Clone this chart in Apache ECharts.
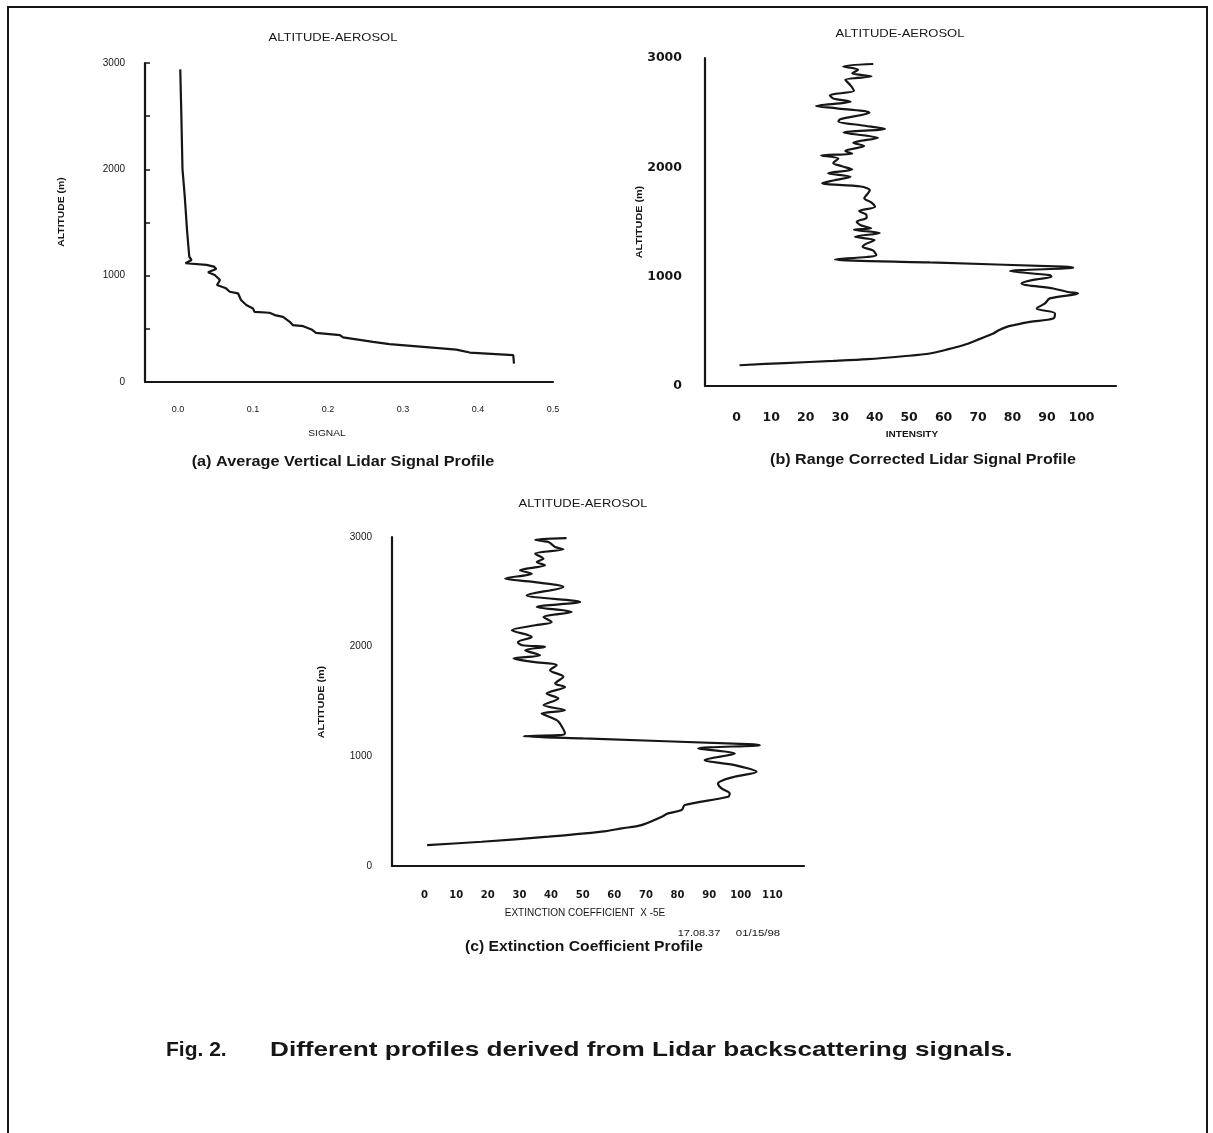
<!DOCTYPE html>
<html>
<head>
<meta charset="utf-8">
<title>Lidar profiles</title>
<script src="https://cdn.jsdelivr.net/npm/echarts@6/dist/echarts.min.js"></script>
<style>
html, body { margin: 0; padding: 0; background: #fff; }
#myChart { width: 1213px; height: 1133px; }
</style>
</head>
<body>
<div id="myChart"></div>
<script>
// tick labels
var altLabels = [0, 1000, 2000, 3000];
var altMinor = [500, 1000, 1500, 2000, 2500, 3000];
var signalLabels = [0, 0.1, 0.2, 0.3, 0.4, 0.5];
var intensityLabels = [0, 10, 20, 30, 40, 50, 60, 70, 80, 90, 100];
var extLabels = [0, 10, 20, 30, 40, 50, 60, 70, 80, 90, 100, 110];

// (a) average vertical lidar signal
var sigAlt = [2940, 2530, 2000, 1745, 1430, 1180, 1148, 1117, 1101, 1085, 1063, 1032, 1007, 959, 912, 881, 849, 834,
    771, 724, 692, 660, 651, 629, 613, 566, 535, 525, 494, 462, 440, 419, 377, 356, 330, 305, 277, 252, 173];
var sigVal = [0.003, 0.0044, 0.006, 0.009, 0.012, 0.015, 0.018, 0.010, 0.038, 0.048, 0.051, 0.040, 0.049, 0.056, 0.052,
    0.064, 0.069, 0.080, 0.084, 0.091, 0.100, 0.102, 0.122, 0.129, 0.140, 0.149, 0.153, 0.167, 0.178, 0.184, 0.216,
    0.220, 0.260, 0.282, 0.327, 0.371, 0.389, 0.447, 0.448];

// (b) range corrected signal
var intAlt = [2945, 2923, 2893, 2860, 2832, 2800, 2750, 2700, 2660, 2630, 2600, 2560, 2540, 2500, 2440, 2420, 2385,
    2352, 2318, 2270, 2225, 2195, 2150, 2125, 2108, 2080, 2040, 2010, 1980, 1946, 1915, 1880, 1855, 1825, 1790,
    1760, 1717, 1680, 1640, 1600, 1570, 1540, 1503, 1470, 1442, 1430, 1400, 1365, 1335, 1300, 1274, 1240, 1198,
    1180, 1158, 1130, 1091, 1082, 1051, 1014, 999, 970, 938, 892, 860, 847, 801, 755, 709, 663, 617, 587, 556,
    541, 510, 480, 419, 373, 342, 297, 272, 245, 229, 210, 190];
var intVal = [39.6, 30.9, 35.2, 33.5, 39.1, 31.5, 33, 34, 27, 28, 33, 23, 29, 38.5, 30, 29.5, 36,
    43, 31, 41, 33.8, 37, 31.5, 33.5, 24.5, 29.5, 28, 30.5, 33.5, 26.5, 33, 28, 24.8, 36, 38.6,
    38, 37, 39, 40.1, 35.5, 37.5, 37.7, 34.8, 36, 39, 34, 41.5, 34.3, 40, 37.5, 36.5, 39.5, 40.5,
    37.7, 28.5, 56, 94.7, 97.6, 79.2, 90.8, 91.3, 86, 82.6, 91.8, 96, 99, 90.8, 89.4, 87, 92.3, 91.8, 85, 80.2,
    78.3, 76, 74.4, 69.6, 65.7, 62, 56, 48.3, 38, 28, 14, 0.8];

// (c) extinction coefficient
var extAlt = [2990, 2975, 2954, 2909, 2888, 2848, 2803, 2772, 2742, 2697, 2666, 2621, 2590, 2545, 2469, 2408, 2362,
    2317, 2271, 2226, 2195, 2150, 2089, 2040, 2013, 1998, 1968, 1922, 1892, 1861, 1831, 1786, 1725, 1664, 1633,
    1573, 1528, 1467, 1421, 1391, 1376, 1330, 1300, 1209, 1193, 1184, 1163, 1111, 1102, 1072, 1026, 966, 920,
    859, 814, 753, 708, 662, 631, 556, 510, 480, 449, 373, 343, 313, 267, 221, 191];
var extVal = [44.9, 35, 39.2, 41.3, 43.9, 35, 37.6, 35.5, 38.1, 30.2, 33.9, 25.5, 34.4, 43.9, 32.3, 49.2, 35.5,
    46.5, 37.6, 40.2, 35, 27.6, 33.9, 29.5, 30.8, 38.1, 31.8, 36.5, 28.1, 34.4, 41.8, 39.7, 43.9, 41.3, 44.4,
    38.6, 42.3, 37.6, 44.4, 37, 38.1, 41.8, 42.8, 44.4, 42.3, 31.3, 50.2, 102.3, 106, 86.5, 98.1, 88.6, 98.1,
    105, 98, 92.8, 93.9, 96.5, 96, 82.3, 81.3, 77, 75, 68.6, 62.3, 56, 39.2, 18.1, 0.8];

var INK = '#161616';
var FONT = '"Liberation Sans", Arial, sans-serif';
var WIDE = '"DejaVu Sans", sans-serif';

function pairs(xs, ys) {
    var out = [];
    for (var i = 0; i < xs.length; i++) {
        out.push([xs[i], ys[i]]);
    }
    return out;
}

function xAxisOf(idx, min, max, labels, font, size, weight, margin, fmt) {
    return {
        type: 'value', gridIndex: idx, min: min, max: max,
        axisLine: { show: true, onZero: false, lineStyle: { color: INK, width: 2.2 } },
        axisTick: { show: false },
        splitLine: { show: false },
        axisLabel: {
            customValues: labels, margin: margin, color: INK,
            fontFamily: font, fontSize: size, fontWeight: weight,
            formatter: fmt || function (v) { return String(v); }
        }
    };
}

function yAxisOf(idx, font, size, weight, margin, ticks) {
    return {
        type: 'value', gridIndex: idx, min: 0, max: 3000,
        axisLine: { show: true, onZero: false, lineStyle: { color: INK, width: 2.2 } },
        axisTick: { show: ticks, inside: true, length: 5, customValues: altMinor, lineStyle: { color: INK, width: 1.5 } },
        splitLine: { show: false },
        axisLabel: {
            customValues: altLabels, margin: margin, color: INK,
            fontFamily: font, fontSize: size, fontWeight: weight,
            formatter: function (v) { return String(v); }
        }
    };
}

// text block; sx stretches it sideways like the scanned original
function txt(s, x, y, size, weight, sx, rot, align) {
    return {
        type: 'text', x: x, y: y, rotation: rot || 0, scaleX: sx || 1,
        style: {
            text: s, font: weight + ' ' + size + 'px ' + FONT, fill: INK,
            align: align || 'center', verticalAlign: 'middle',
            textAlign: align || 'center', textVerticalAlign: 'middle'
        }
    };
}

function lineOf(idx, data, smooth) {
    return {
        type: 'line', xAxisIndex: idx, yAxisIndex: idx, data: data,
        symbol: 'none', smooth: smooth,
        lineStyle: { color: INK, width: 2.2 }
    };
}

var myChart = echarts.init(document.getElementById('myChart'));
var option = {
    backgroundColor: '#fff',
    animation: false,
    grid: [
        { left: 145, top: 63, width: 408, height: 319 },
        { left: 705, top: 58, width: 411, height: 328 },
        { left: 392, top: 537, width: 412, height: 329 }
    ],
    xAxis: [
        xAxisOf(0, -0.044, 0.5, signalLabels, FONT, 9, 'normal', 23, function (v) { return v.toFixed(1); }),
        xAxisOf(1, -9.2, 110, intensityLabels, WIDE, 12.5, 'bold', 25),
        xAxisOf(2, -10.3, 120, extLabels, WIDE, 10, 'bold', 24)
    ],
    yAxis: [
        yAxisOf(0, FONT, 10, 'normal', 20, true),
        yAxisOf(1, WIDE, 12.5, 'bold', 23, false),
        yAxisOf(2, FONT, 10, 'normal', 20, false)
    ],
    series: [
        lineOf(0, pairs(sigVal, sigAlt), false),
        lineOf(1, pairs(intVal, intAlt), 0.3),
        lineOf(2, pairs(extVal, extAlt), 0.3)
    ],
    graphic: [
        {
            type: 'polyline', silent: true,
            shape: { points: [[8, 1133], [8, 7], [1207, 7], [1207, 1133]] },
            style: { stroke: INK, lineWidth: 2, fill: null }
        },
        txt('ALTITUDE-AEROSOL', 333, 38, 11, 'normal', 1.18),
        txt('ALTITUDE-AEROSOL', 900, 34, 11, 'normal', 1.18),
        txt('ALTITUDE-AEROSOL', 583, 504, 11, 'normal', 1.18),
        txt('ALTITUDE (m)', 62, 212, 9, 'bold', 1.15, Math.PI / 2),
        txt('ALTITUDE (m)', 640, 222, 9, 'bold', 1.2, Math.PI / 2),
        txt('ALTITUDE (m)', 322, 702, 9, 'bold', 1.2, Math.PI / 2),
        txt('SIGNAL', 327, 434, 8.5, 'normal', 1.2),
        txt('INTENSITY', 912, 435, 8.5, 'bold', 1.18),
        txt('EXTINCTION COEFFICIENT  X -5E', 585, 913, 10, 'normal', 1),
        txt('(a) Average Vertical Lidar Signal Profile', 343, 462, 14, 'bold', 1.16),
        txt('(b) Range Corrected Lidar Signal Profile', 923, 460, 14, 'bold', 1.15),
        txt('17.08.37', 699, 933, 9.5, 'normal', 1.15),
        txt('01/15/98', 758, 933, 9.5, 'normal', 1.2),
        txt('(c) Extinction Coefficient Profile', 584, 947, 14, 'bold', 1.12),
        txt('Fig. 2.', 166, 1050, 21, 'bold', 1, 0, 'left'),
        txt('Different profiles derived from Lidar backscattering signals.', 270, 1050, 21, 'bold', 1.245, 0, 'left')
    ]
};
myChart.setOption(option);
</script>
</body>
</html>
